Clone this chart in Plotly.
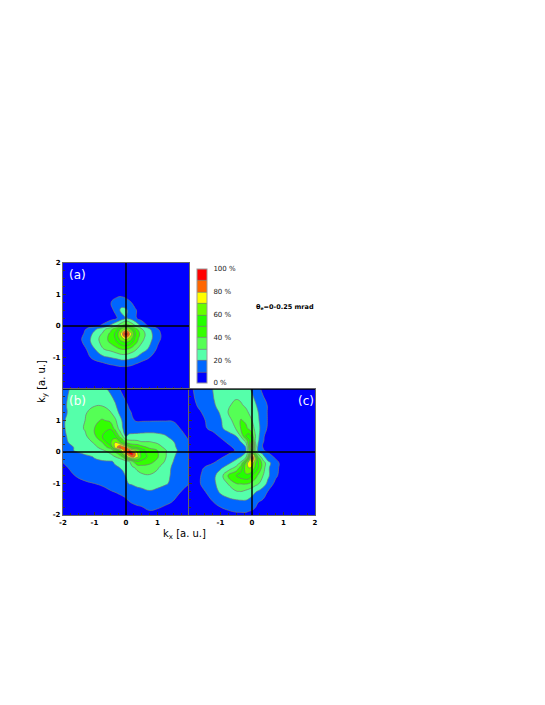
import plotly.graph_objects as go

W, H = 545, 705

# Band colours for 0-10 %, 10-20 % ... 90-100 %
band_colors = ["#0000ff", "#0066ff", "#55ffaa", "#55ff55", "#33ff00",
               "#22ff00", "#66ff00", "#ffff00", "#ff6600", "#ff0000"]

# Panel (a)
a_x = [-2, -1.5, -1.25, -1, -0.75, -0.5, -0.3, -0.15, 0, 0.15, 0.3, 0.5, 0.75, 1, 1.25, 2]
a_y = [-2, -1.5, -1.25, -1, -0.75, -0.5, -0.4, -0.25, -0.1, 0, 0.25, 0.5, 0.75, 1, 2]
a_z = [
    [0, 0, 0, 0, 0, 0, 0, 0, 0, 0, 0, 0, 0, 0, 0, 0],
    [0, 0, 0, 1, 2, 3, 3, 4, 4, 3, 3, 2, 1, 0, 0, 0],
    [0, 1, 2, 4, 6, 9, 10.5, 11, 11, 10.5, 8, 5, 2, 1, 0, 0],
    [0, 2, 7, 13, 17, 20, 22, 24, 24, 22, 20, 15, 10, 4, 1, 0],
    [0, 3, 10, 19, 29, 32, 36, 39, 39, 36, 31, 24, 18, 8, 2, 0],
    [0, 6, 15, 25, 33, 42, 50, 58, 62, 56, 44, 31, 22, 12, 3, 0],
    [0, 7, 15, 25, 34, 43, 52, 66, 74, 64, 46, 33, 23, 14, 4, 0],
    [0, 5, 13, 23, 31, 42, 54, 74, 100, 74, 50, 35, 23, 14, 4, 0],
    [0, 2, 11, 18, 26, 36, 48, 62, 72, 60, 44, 31, 21, 11, 2, 0],
    [0, 0, 2, 7, 12, 22, 31, 40, 45, 40, 31, 18, 8, 4, 0, 0],
    [0, 0, 0, 1, 3, 5, 9, 14, 21, 17, 11, 6, 2, 0, 0, 0],
    [0, 0, 0, 0, 1, 7, 13, 23, 22, 14, 11, 5, 1, 0, 0, 0],
    [0, 0, 0, 0, 2, 9.5, 13, 14, 13, 10.5, 6, 2, 0, 0, 0, 0],
    [0, 0, 0, 0, 0, 4, 8, 8.5, 7, 4, 2, 0, 0, 0, 0, 0],
    [0, 0, 0, 0, 0, 0, 0, 0, 0, 0, 0, 0, 0, 0, 0, 0],
]

# Panel (b)
b_x = [-2, -1.6, -1.3, -1, -0.75, -0.5, -0.35, -0.2, -0.1, 0, 0.1, 0.2, 0.35, 0.5, 0.75, 1, 1.25, 1.5, 2]
b_y = [-2, -1.6, -1.25, -1, -0.75, -0.5, -0.3, -0.15, -0.05, 0.05, 0.15, 0.3, 0.5, 0.75, 1, 1.25, 1.5, 2]
b_z = [
    [0, 0, 0, 0, 0, 0, 1, 1, 2, 3, 4, 4, 5, 6, 8, 7, 5, 4, 1],
    [0, 0, 0, 1, 2, 3, 4, 5, 6, 7.5, 9.5, 10.5, 11.5, 12, 13.5, 13, 11.5, 9.5, 4],
    [0, 1, 3, 5, 7, 9.5, 10.5, 12, 13, 14, 15, 15.5, 17, 18, 19.5, 18, 16, 13, 7],
    [2, 6, 8.5, 10, 11.5, 13, 14, 15, 16, 18, 20.5, 21, 22.5, 23, 24, 23, 21, 18, 10.2],
    [5, 10.3, 13, 15, 16, 17, 17.5, 18, 18.5, 20.5, 22, 24, 26, 28, 29, 27, 23, 18, 10.3],
    [8, 13, 15, 17, 18, 19, 19.5, 20, 21, 22, 24, 28, 32, 35, 36, 31, 25, 18, 10.3],
    [10.5, 15, 17, 19, 19.3, 19.5, 20.5, 22, 23, 26, 30, 38, 50, 48, 43, 38, 29, 20, 10.5],
    [12, 15, 18, 20.5, 23, 26, 30, 35, 42, 60, 75, 85, 74, 56, 47, 41, 31, 21, 11],
    [12.5, 18, 21, 24, 27, 30, 35, 45, 65, 80, 92, 95, 72, 55, 46, 41, 31, 22, 11],
    [14, 21, 23, 26, 29, 33, 45, 60, 78, 85, 90, 72, 68, 55, 44, 40, 31, 23, 11],
    [15, 21, 25, 28, 33, 45, 72, 92, 85, 80, 62, 52, 50, 44, 38, 34, 28, 22, 10.5],
    [17, 24, 26, 31, 40, 58, 70, 62, 50, 40, 35, 34, 33, 31, 31, 29, 25, 21, 10.5],
    [18, 25, 28, 38, 50, 57, 55, 38, 30, 20, 22, 23, 24, 24, 24, 23, 21, 16, 8.5],
    [19, 25, 31, 40, 47, 49, 37, 27, 20, 17, 15, 14, 13, 14, 15, 15, 14, 13, 6],
    [19, 25, 30, 38, 41, 38, 32, 24, 18, 14, 12, 10.5, 9.5, 9.5, 9.5, 9.6, 9.7, 9.5, 3],
    [18, 24, 29, 34, 35, 31, 26, 18, 14, 12, 11, 9.5, 6, 5, 4, 3, 2, 1, 0],
    [18, 25, 28, 29, 29, 25, 21, 16, 13, 11, 9, 6, 4, 3, 2, 1, 0, 0, 0],
    [17, 23, 26, 26, 23, 18, 15, 10, 8, 6, 4, 3, 2, 1, 1, 0, 0, 0, 0],
]

# Panel (c)
c_x = [-2, -1.6, -1.25, -1, -0.75, -0.5, -0.35, -0.2, -0.1, 0, 0.1, 0.2, 0.35, 0.5, 0.75, 1, 1.25, 2]
c_y = [-2, -1.6, -1.25, -1, -0.75, -0.5, -0.35, -0.2, -0.05, 0.05, 0.2, 0.35, 0.5, 0.75, 1, 1.25, 1.5, 2]
c_z = [
    [0, 1, 3, 5, 7, 8, 8, 8, 7, 7, 6, 5, 4, 3, 1, 0, 0, 0],
    [0, 5, 9.5, 13, 15, 17, 17.5, 18, 17, 15, 13, 10, 8, 6, 3, 1, 0, 0],
    [0, 8, 14, 22, 27, 29.5, 30.2, 28, 26, 24, 21, 19, 15, 10, 4, 1, 0, 0],
    [0, 11, 16, 26, 30.5, 40, 40.5, 41, 40, 37, 34, 31, 25, 18, 7, 2, 0, 0],
    [2, 10.5, 17, 25, 41, 50, 55, 58, 57, 50, 45, 38, 30, 22, 12, 4, 1, 0],
    [1, 9, 14, 18.5, 24, 33, 45, 65, 70, 68, 58, 50, 35, 22, 12.5, 6, 1, 0],
    [0, 5, 9.5, 14, 18.5, 24, 33, 60, 78, 75, 62, 50, 36, 24, 13, 6, 2, 0],
    [0, 2, 5, 9.7, 14, 18.5, 22, 31, 55, 95, 70, 45, 26, 16, 9.5, 3, 1, 0],
    [0, 0, 2, 4, 9.5, 13, 16, 21, 40, 70, 45, 28, 18, 11, 6, 2, 0, 0],
    [0, 0, 1, 3, 6, 11, 14, 18, 40, 60, 35, 15, 11, 7.5, 2, 0, 0, 0],
    [0, 0, 2, 4, 9, 13, 16, 21, 45, 75, 35, 18, 9, 5, 1, 0, 0, 0],
    [0, 1, 3, 8, 12, 16, 21, 33, 48, 60, 30, 21, 11, 5, 1, 0, 0, 0],
    [0, 2, 7, 11, 15, 20, 31, 50, 56, 46, 31, 22, 11.5, 6, 2, 0, 0, 0],
    [2, 8, 12, 18, 24, 31, 41, 43, 38, 34, 28, 23, 14, 9, 3, 1, 0, 0],
    [4, 8.5, 13, 19, 26, 35, 41, 38, 33, 30, 25, 21, 15, 9.5, 3, 1, 0, 0],
    [5, 10, 15, 21, 30.5, 34, 35, 33, 29.5, 26, 23, 20, 14, 9.5, 3, 1, 0, 0],
    [7, 12, 18, 24, 29, 32, 31, 28, 25, 23, 21, 18, 13, 9.5, 3, 1, 0, 0],
    [8.5, 13, 20, 24, 26, 26, 25, 23, 21, 19, 16, 12, 8, 5, 2, 0, 0, 0],
]

scale_ticks = [0, 20, 40, 60, 80, 100]
scale_labels = ["0 %", "20 %", "40 %", "60 %", "80 %", "100 %"]
a_yticks = [-1, 0, 1, 2]
a_ylabels = ["-1", "0", "1", "2"]
b_ticks = [-2, -1, 0, 1]
b_labels = ["-2", "-1", "0", "1"]
c_xticks = [-1, 0, 1, 2]
c_xlabels = ["-1", "0", "1", "2"]
blank_ticks = [-1, 0, 1]

# stepped colorscale, one flat piece per band
colorscale = []
for i, col in enumerate(band_colors):
    colorscale.append([i / 10, col])
    colorscale.append([(i + 1) / 10, col])


def contour(x, y, z, ax, show=False):
    return go.Contour(
        x=x, y=y, z=z, xaxis="x" + ax, yaxis="y" + ax,
        zmin=0, zmax=100, colorscale=colorscale, showscale=show,
        contours=dict(start=10, end=90, size=10, coloring="fill"),
        line=dict(color="#777777", width=0.7, smoothing=1.3),
        colorbar=dict(
            x=197 / W, xanchor="left", xpad=0, y=1 - 383 / H, yanchor="bottom", ypad=0,
            lenmode="pixels", len=114, thicknessmode="pixels", thickness=10,
            tickmode="array", tickvals=scale_ticks, ticktext=scale_labels,
            ticks="outside", ticklen=5, tickcolor="rgba(0,0,0,0)",
            tickfont=dict(family="DejaVu Sans", size=7, color="#222"),
            outlinecolor="#999", outlinewidth=1, borderwidth=0,
        ),
    )


fig = go.Figure()
fig.add_trace(contour(a_x, a_y, a_z, "", show=True))
fig.add_trace(contour(b_x, b_y, b_z, "2"))
fig.add_trace(contour(c_x, c_y, c_z, "3"))

tick_font = dict(family="DejaVu Sans", size=7, color="black", weight="bold")


def axis(dom, tickvals, ticktext, anchor, labels=True):
    return dict(
        domain=dom, range=[-2, 2], anchor=anchor, automargin=False,
        tickmode="array", tickvals=tickvals, ticktext=ticktext,
        showticklabels=labels, tickfont=tick_font,
        ticks="inside", ticklen=3, tickcolor="#333", showgrid=False, zeroline=False,
        showline=True, linecolor="#666", linewidth=1.2, mirror=True,
        minor=dict(ticks="inside", ticklen=2, tickcolor="#333", dtick=0.25),
    )


xd1, xd2 = [63 / W, 189 / W], [189 / W, 315 / W]
yd1, yd2 = [1 - 389 / H, 1 - 263 / H], [1 - 515 / H, 1 - 389 / H]

fig.update_layout(
    template="none",
    width=W, height=H, autosize=False,
    margin=dict(l=0, r=0, t=0, b=0),
    paper_bgcolor="white", plot_bgcolor="white", showlegend=False,
    xaxis=axis(xd1, blank_ticks, None, "y", labels=False),
    yaxis=axis(yd1, a_yticks, a_ylabels, "x"),
    xaxis2=axis(xd1, b_ticks, b_labels, "y2"),
    yaxis2=axis(yd2, b_ticks, b_labels, "x2"),
    xaxis3=axis(xd2, c_xticks, c_xlabels, "y3"),
    yaxis3=axis(yd2, blank_ticks, None, "x3", labels=False),
)

# black cross through the origin of each panel
for ax in ["", "2", "3"]:
    fig.add_shape(type="line", xref="x" + ax, yref="y" + ax, x0=-2, x1=2, y0=0, y1=0,
                  line=dict(color="black", width=1.5))
    fig.add_shape(type="line", xref="x" + ax, yref="y" + ax, x0=0, x1=0, y0=-2, y1=2,
                  line=dict(color="black", width=1.5))
fig.add_shape(type="line", xref="x2", yref="y2", x0=-2, x1=2, y0=2, y1=2,
              line=dict(color="black", width=1.5))
fig.add_shape(type="line", xref="x3", yref="y3", x0=-2, x1=2, y0=2, y1=2,
              line=dict(color="black", width=1.5))


def note(text, px, py, size, color="black", angle=0, bold=False):
    fig.add_annotation(
        text=text, xref="paper", yref="paper", x=px / W, y=1 - py / H,
        showarrow=False, textangle=angle, xanchor="center", yanchor="middle",
        font=dict(family="DejaVu Sans", size=size, color=color,
                  weight="bold" if bold else "normal"),
    )


note("(a)", 77, 275, 12, "white")
note("(b)", 77, 401, 12, "white")
note("(c)", 306, 401, 12, "white")
note("k<sub>x</sub> [a. u.]", 184, 534, 10)
note("k<sub>y</sub> [a. u.]", 42, 382, 10, angle=-90)
note("θ<sub>e</sub>=0-0.25 mrad", 285, 307, 6.5, bold=True)

fig.write_html("out.html", config={"displayModeBar": False},
               post_script="document.body.style.margin='0';")
